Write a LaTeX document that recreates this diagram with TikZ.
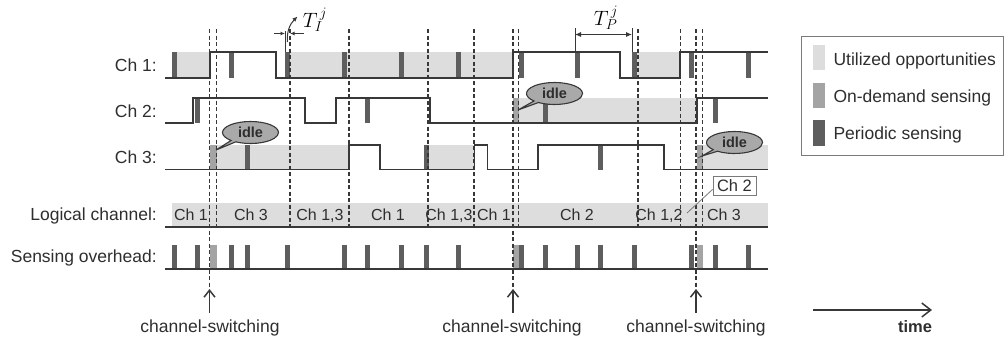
\documentclass[tikz,border=0pt]{standalone}
\usepackage{fontspec}
\setmainfont{Liberation Sans}
\usetikzlibrary{arrows.meta,shapes.callouts}
\definecolor{ink}{HTML}{2E2E2E}
\definecolor{wavec}{HTML}{383838}
\definecolor{utilc}{HTML}{DDDDDD}
\definecolor{odc}{HTML}{A4A4A4}
\definecolor{perc}{HTML}{5E5E5E}
\definecolor{bubc}{HTML}{A9A9A9}
\definecolor{legc}{HTML}{7A7A7A}
\begin{document}
\begin{tikzpicture}[x=1pt,y=-1pt,
  wave/.style={draw=wavec,line width=1.9pt,line join=miter},
  guide/.style={draw=wavec,line width=1.3pt,dash pattern=on 4pt off 2.5pt},
  rowlab/.style={anchor=base east,inner sep=0pt,text=ink,font=\fontsize{17.5}{20}\selectfont},
  chlab/.style={anchor=base,inner sep=0pt,text=ink,font=\fontsize{16}{19}\selectfont},
  swlab/.style={anchor=base,inner sep=0pt,text=ink,font=\fontsize{17.5}{20}\selectfont},
  leglab/.style={anchor=base west,inner sep=0pt,text=ink,font=\fontsize{17.5}{20}\selectfont},
  swatch/.style={minimum width=12pt,minimum height=25pt,inner sep=0pt,anchor=north west},
  idlebub/.style={ellipse callout,draw=wavec,line width=1.1pt,fill=bubc,
    minimum width=56pt,minimum height=22pt,inner sep=0pt,text=ink,
    font=\fontsize{14.5}{16}\selectfont\bfseries,callout pointer arc=12},
  swarrow/.style={draw=wavec,line width=1.5pt,-{Straight Barb[length=7pt,width=11pt]}},
  dimarrow/.style={draw=wavec,line width=0.9pt},
  tick/.style={draw=wavec,line width=0.9pt}
]
\useasboundingbox (0,0) rectangle (1006,340);

% ---- utilized-opportunity bands ----
\fill[utilc] (172,52) rectangle (210,77.7);
\fill[utilc] (285,52) rectangle (513,77.7);
\fill[utilc] (632,52) rectangle (680,77.7);
\fill[utilc] (513,98) rectangle (697,123);
\fill[utilc] (210,145) rectangle (349,169.5);
\fill[utilc] (423.5,145) rectangle (474.5,169.5);
\fill[utilc] (697,145) rectangle (768,169.5);
\fill[utilc] (172,202.5) rectangle (768,227);

% ---- sensing bars, channel rows ----
\foreach \x in {172,228.5,285,342,399,455.5,518.5,575,632,689,746}
  \fill[perc] (\x,52) rectangle ++(5,25.7);
\foreach \x in {194.5,364.5,542.5,712.5}
  \fill[perc] (\x,98) rectangle ++(5,25);
\fill[odc] (513,98) rectangle ++(5.5,25);
\foreach \x in {244.5,423.5,598}
  \fill[perc] (\x,145) rectangle ++(5,24.5);
\fill[odc] (210,145) rectangle ++(6.5,24.5);
\fill[odc] (697,145) rectangle ++(6,24.5);

% ---- sensing overhead row ----
\foreach \x in {172,194.5,228.5,244.5,285,342,364.5,399,423.5,455.5,518.5,542.5,575,598,632,689,712.5,746}
  \fill[perc] (\x,245) rectangle ++(5,24);
\foreach \x/\w in {210/6.5,513/5.5,697/6}
  \fill[odc] (\x,245) rectangle ++(\w,24);

% ---- channel waveforms ----
\draw[wave] (165,77.7) -- (210,77.7) -- (210,52) -- (276,52) -- (276,77.7) -- (513,77.7)
  -- (513,52) -- (620,52) -- (620,77.7) -- (680,77.7) -- (680,52) -- (768,52);
\draw[wave] (165,123) -- (193,123) -- (193,98) -- (305,98) -- (305,123) -- (336,123)
  -- (336,98) -- (430,98) -- (430,123) -- (697,123) -- (697,98) -- (768,98);
\draw[wave] (165,169.5) -- (349,169.5) -- (349,145) -- (380,145) -- (380,169.5) -- (474.5,169.5)
  -- (474.5,145) -- (487.5,145) -- (487.5,169.5) -- (538,169.5) -- (538,145) -- (664,145)
  -- (664,169.5) -- (768,169.5);
\draw[wave] (165,227) -- (768,227);
\draw[wave] (165,269) -- (768,269);

% ---- slot boundaries ----
\foreach \x in {216.8,290,349,428,474,518.5,638,680.5,702.5}
  \draw[guide] (\x,29) -- (\x,227);
\coordinate (sw1) at (209.5,289);
\coordinate (sw2) at (513,289);
\coordinate (sw3) at (696,289);
\foreach \c in {sw1,sw2,sw3}
  \draw[guide] (\c |- 0,29) -- (\c);

% ---- row labels ----
\node[rowlab] (lch1) at (157,71.5) {Ch 1:};
\node[rowlab] (lch2) at (157,117) {Ch 2:};
\node[rowlab] (lch3) at (157,163.5) {Ch 3:};
\node[rowlab] (llog) at (157,220.7) {Logical channel:};
\node[rowlab] (lover) at (157,262.7) {Sensing overhead:};

% ---- logical channel labels ----
\node[chlab] (g1) at (191,220.5) {Ch 1};
\node[chlab] (g2) at (251,220.5) {Ch 3};
\node[chlab] (g3) at (320,220.5) {Ch 1,3};
\node[chlab] (g4) at (388,220.5) {Ch 1};
\node[chlab] (g5) at (449,220.5) {Ch 1,3};
\node[chlab] (g6) at (494,220.5) {Ch 1};
\node[chlab] (g7) at (577,220.5) {Ch 2};
\node[chlab] (g8) at (659,220.5) {Ch 1,2};
\node[chlab] (g9) at (724,220.5) {Ch 3};

% short Ch 2 slot, called out
\node[draw=legc,line width=0.8pt,fill=white,minimum width=43pt,minimum height=19pt,inner sep=0pt,
  text=ink,font=\fontsize{16.5}{19}\selectfont] (ch2box) at (734.5,185.5) {Ch 2};
\coordinate (ch2pt) at (687,213);
\draw[draw=legc,line width=0.8pt] (ch2pt) -- ([yshift=6pt]ch2box.south west);

% ---- idle bubbles ----
\node[idlebub,callout absolute pointer={(216,150)}] (idle1) at (250.5,132.5) {idle};
\node[idlebub,callout absolute pointer={(518,110)}] (idle2) at (554.5,93.5) {idle};
\node[idlebub,callout absolute pointer={(702,156)}] (idle3) at (734.5,142.5) {idle};

% ---- sensing time T_I ----
\coordinate (ti1) at (285,31);
\coordinate (ti1b) at (285,52);
\draw[tick] (ti1) -- (ti1b);
\coordinate (tia) at (274,33.5);
\coordinate (tib) at (285,33.5);
\coordinate (tic) at (304,33.5);
\coordinate (tid) at (290,33.5);
\draw[dimarrow,-{Latex[length=4.5pt,width=4pt]}] (tia) -- (tib);
\draw[dimarrow,-{Latex[length=4.5pt,width=4pt]}] (tic) -- (tid);
\coordinate (tie) at (287.5,42);
\coordinate (tif) at (297.5,16.5);
\draw[dimarrow,line width=1pt,-{Latex[length=5pt,width=4.5pt]}] (tie) to[out=95,in=225] (tif);
\node[inner sep=0pt,font=\fontsize{21}{24}\selectfont] (tilab) at (315,20) {$T_I^{\,j}$};

% ---- sensing period T_P ----
\coordinate (tp1) at (575,28);
\coordinate (tp1b) at (575,52);
\coordinate (tp2) at (632,28);
\coordinate (tp2b) at (632,52);
\draw[tick] (tp1) -- (tp1b);
\draw[tick] (tp2) -- (tp2b);
\draw[dimarrow,{Latex[length=6pt,width=5pt]}-{Latex[length=6pt,width=5pt]}] (tp1 |- 0,34.5) -- (tp2 |- 0,34.5);
\node[inner sep=0pt,font=\fontsize{21}{24}\selectfont] (tplab) at (606,18) {$T_P^{\,j}$};

% ---- channel-switching markers ----
\node[swlab] (cs1) at (210,332) {channel-switching};
\node[swlab] (cs2) at (512,332) {channel-switching};
\node[swlab] (cs3) at (696,332) {channel-switching};
\draw[swarrow] ([yshift=6pt]cs1.north -| sw1) -- (sw1);
\draw[swarrow] ([yshift=6pt]cs2.north -| sw2) -- (sw2);
\draw[swarrow] ([yshift=6pt]cs3.north -| sw3) -- (sw3);

% ---- time axis ----
\node[anchor=base,inner sep=0pt,text=ink,font=\fontsize{16.5}{19}\selectfont\bfseries] (timelab) at (915,332) {time};
\coordinate (t0) at (813,310);
\coordinate (t1) at (932,310);
\draw[draw=wavec,line width=1.5pt,-{Straight Barb[length=9pt,width=14pt]}] (t0) -- (t1);

% ---- legend ----
\node[draw=legc,line width=1.2pt,minimum width=202.5pt,minimum height=119.5pt,inner sep=0pt,anchor=north west] (legend) at (800.5,35.5) {};
\node[swatch,fill=utilc] (sw-u) at (813,45) {};
\node[swatch,fill=odc] (sw-o) at (813,83) {};
\node[swatch,fill=perc,minimum height=26pt] (sw-p) at (813,120) {};
\node[leglab] (lt-u) at (833.3,65.7) {Utilized opportunities};
\node[leglab] (lt-o) at (833.3,102.7) {On-demand sensing};
\node[leglab] (lt-p) at (833.3,139.3) {Periodic sensing};
\end{tikzpicture}
\end{document}
